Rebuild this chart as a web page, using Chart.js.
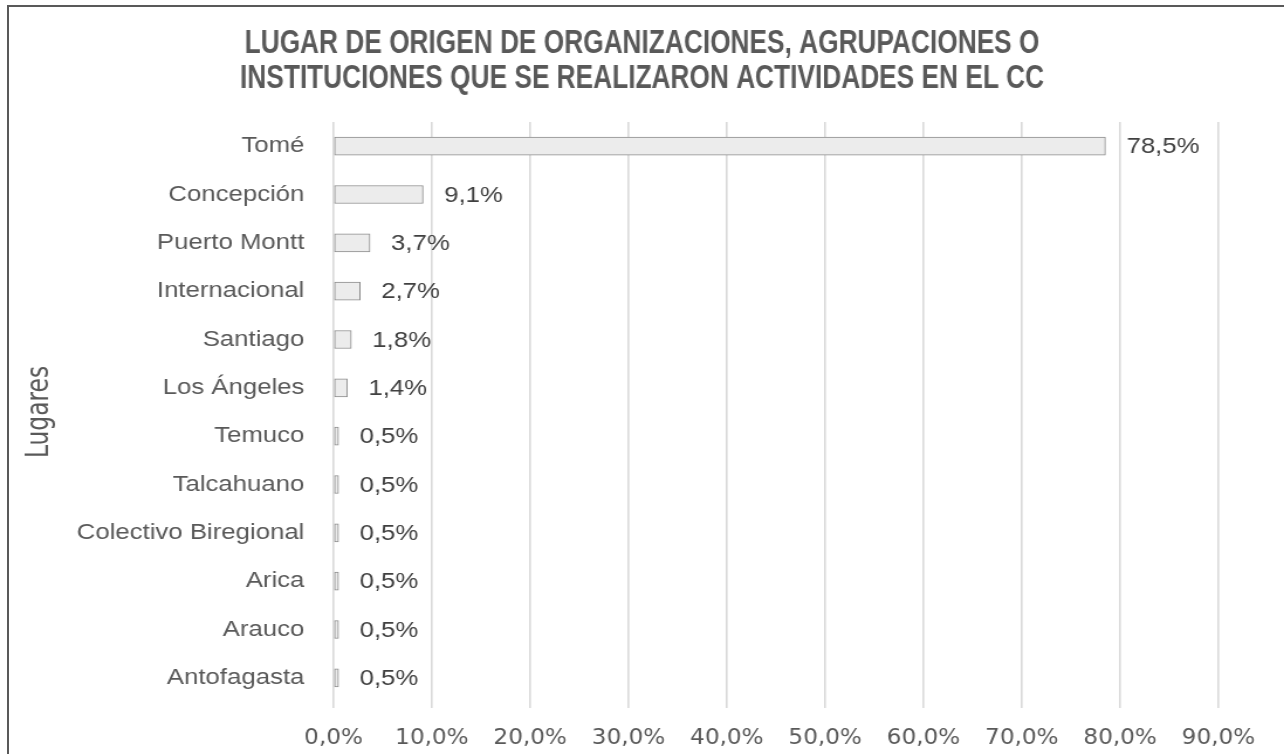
<!DOCTYPE html>
<html>
<head>
<meta charset="utf-8">
<script src="https://cdn.jsdelivr.net/npm/chart.js@4"></script>
<style>
  html, body { margin: 0; padding: 0; background: #fff; overflow: hidden; }
  #frame {
    position: absolute; left: 7px; top: 5px; width: 1300px; height: 770px;
    border-left: 2px solid #595959; border-top: 2px solid #595959;
  }
  /* chart is laid out narrower and widened, like the original sheet export */
  #wrap {
    position: absolute; left: 0; top: 0; width: 1097px; height: 754px;
    transform: scaleX(1.1705); transform-origin: 0 0;
  }
</style>
</head>
<body>
<div id="frame"></div>
<div id="wrap"><canvas id="barChart" width="1097" height="754"></canvas></div>
<script>
/************************ data ************************/
const lugares = ['Tomé', 'Concepción', 'Puerto Montt', 'Internacional', 'Santiago', 'Los Ángeles',
  'Temuco', 'Talcahuano', 'Colectivo Biregional', 'Arica', 'Arauco', 'Antofagasta'];
const porcentajes = [78.5, 9.1, 3.7, 2.7, 1.8, 1.4, 0.5, 0.5, 0.5, 0.5, 0.5, 0.5];
const titulo = ['LUGAR DE ORIGEN DE ORGANIZACIONES, AGRUPACIONES O',
  'INSTITUCIONES QUE SE REALIZARON ACTIVIDADES EN EL CC'];
const tituloEje = 'Lugares';

const FONT = "'Liberation Sans', Arial, sans-serif";
const NARROW = "'Liberation Sans Narrow', 'Arial Narrow', 'DejaVu Sans Condensed', sans-serif";

function pct (v) {
  return v.toFixed(1).replace('.', ',') + '%';
}

// condensed bold title, two centred lines
const condensedTitle = {
  id: 'condensedTitle',
  afterDraw (chart) {
    const ctx = chart.ctx;
    const squeeze = 0.66;
    ctx.save();
    ctx.font = 'bold 34px ' + FONT;
    ctx.fillStyle = '#595959';
    ctx.textAlign = 'center';
    ctx.textBaseline = 'middle';
    ctx.translate(chart.width / 2, 0);
    ctx.scale(squeeze, 1);
    titulo.forEach((line, i) => {
      ctx.fillText(line, 0, 44 + i * 35);
    });
    ctx.restore();
  }
};

// value text to the right of each bar
const barLabels = {
  id: 'barLabels',
  afterDatasetsDraw (chart) {
    const ctx = chart.ctx;
    const meta = chart.getDatasetMeta(0);
    const data = chart.data.datasets[0].data;
    ctx.save();
    ctx.font = '22px ' + FONT;
    ctx.fillStyle = '#404040';
    ctx.textAlign = 'left';
    ctx.textBaseline = 'middle';
    meta.data.forEach((bar, i) => {
      ctx.fillText(pct(data[i]), bar.x + 18, bar.y + 1);
    });
    ctx.restore();
  }
};

const ctx = document.getElementById('barChart').getContext('2d');
new Chart(ctx, {
  type: 'bar',
  data: {
    labels: lugares,
    datasets: [{
      data: porcentajes,
      backgroundColor: '#ececec',
      borderColor: '#8c8c8c',
      borderWidth: 1,
      borderSkipped: false,
      barThickness: 18
    }]
  },
  options: {
    indexAxis: 'y',
    responsive: false,
    animation: false,
    layout: { padding: { left: 0, right: 56, top: 122, bottom: 0 } },
    plugins: {
      legend: { display: false },
      tooltip: { enabled: false },
      title: { display: false }
    },
    scales: {
      x: {
        min: 0,
        max: 90,
        ticks: {
          stepSize: 10,
          color: '#595959',
          font: { family: NARROW, size: 22 },
          padding: 17,
          maxRotation: 0,
          callback: (v) => pct(v)
        },
        grid: { color: '#d9d9d9', lineWidth: 1.6, drawTicks: true, tickLength: 6 },
        border: { display: false },
        afterFit: (scale) => { scale.height = 52; }
      },
      y: {
        ticks: {
          color: '#595959',
          font: { family: FONT, size: 22 },
          padding: 17
        },
        grid: { display: false },
        border: { display: false },
        title: {
          display: true,
          text: tituloEje,
          color: '#595959',
          font: { family: NARROW, size: 26 },
          padding: { top: 19, bottom: 0 }
        },
        afterFit: (scale) => { scale.width = 285; }
      }
    }
  },
  plugins: [barLabels, condensedTitle]
});
</script>
</body>
</html>
